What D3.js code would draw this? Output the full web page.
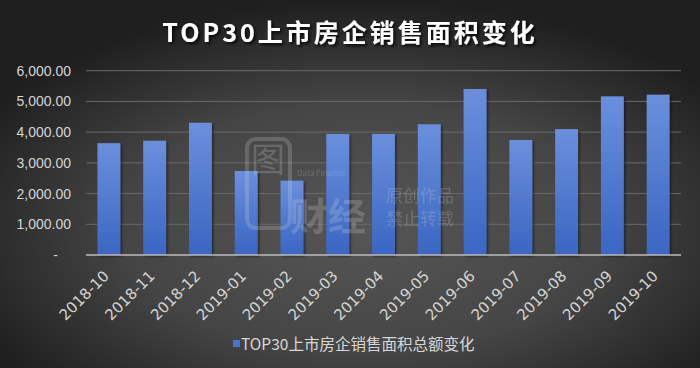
<!DOCTYPE html>
<html><head><meta charset="utf-8">
<script src="https://cdn.jsdelivr.net/npm/d3@7"></script>
<style>
html,body{margin:0;padding:0;background:#2a2a2a;}
svg{display:block;font-family:"Noto Sans CJK SC","Liberation Sans",sans-serif;}
</style></head>
<body>
<svg id="chart" width="700" height="368"></svg>
<script>
const title = "TOP30上市房企销售面积变化";
const seriesName = "TOP30上市房企销售面积总额变化";
const categories = ["2018-10","2018-11","2018-12","2019-01","2019-02","2019-03","2019-04","2019-05","2019-06","2019-07","2019-08","2019-09","2019-10"];
const values = [3640, 3720, 4305, 2735, 2420, 3940, 3940, 4255, 5405, 3745, 4100, 5165, 5220];
const yTicks = [0, 1000, 2000, 3000, 4000, 5000, 6000];

const svg = d3.select("#chart");
const W = 700, H = 368;
const defs = svg.append("defs");
const bg = defs.append("radialGradient").attr("id","bg").attr("cx","52%").attr("cy","62%").attr("r","62%");
bg.append("stop").attr("offset","0%").attr("stop-color","#565656");
bg.append("stop").attr("offset","55%").attr("stop-color","#454545");
bg.append("stop").attr("offset","100%").attr("stop-color","#1f1f1f");
const bar = defs.append("linearGradient").attr("id","barg").attr("x1",0).attr("y1",0).attr("x2",0).attr("y2",1);
bar.append("stop").attr("offset","0%").attr("stop-color","#6b8fdc");
bar.append("stop").attr("offset","100%").attr("stop-color","#3a66c2");
const sh = defs.append("filter").attr("id","sh").attr("x","-20%").attr("y","-20%").attr("width","140%").attr("height","140%");
sh.append("feDropShadow").attr("dx",1.5).attr("dy",1.5).attr("stdDeviation",1.2).attr("flood-color","#000").attr("flood-opacity",0.5);
const tsh = defs.append("filter").attr("id","tsh").attr("x","-10%").attr("y","-30%").attr("width","120%").attr("height","160%");
tsh.append("feDropShadow").attr("dx",2).attr("dy",2).attr("stdDeviation",1.5).attr("flood-color","#000").attr("flood-opacity",0.8);

svg.append("rect").attr("width",W).attr("height",H).attr("fill","url(#bg)");

svg.append("text").attr("x",350).attr("y",42).attr("text-anchor","middle")
  .attr("fill","#ffffff").attr("font-size",25).attr("font-weight","bold")
  .attr("letter-spacing","3px").attr("filter","url(#tsh)").text(title);

const m = {left:86, right:681, top:70.7, bottom:255};
const x = d3.scaleBand().domain(categories).range([m.left, m.right]).paddingInner(0.5).paddingOuter(0.25);
const y = d3.scaleLinear().domain([0,6000]).range([m.bottom, m.top]);

// gridlines
svg.append("g").selectAll("line").data(yTicks.filter(d=>d>0)).join("line")
  .attr("x1",m.left).attr("x2",m.right).attr("y1",d=>y(d)).attr("y2",d=>y(d))
  .attr("stroke","#6a6a6a").attr("stroke-width",1);

// bars
svg.append("g").selectAll("rect").data(values).join("rect")
  .attr("x",(d,i)=>x(categories[i])).attr("width",x.bandwidth())
  .attr("y",d=>y(d)).attr("height",d=>y(0)-y(d))
  .attr("fill","url(#barg)").attr("filter","url(#sh)");

// baseline
svg.append("line").attr("x1",m.left).attr("x2",m.right).attr("y1",y(0)).attr("y2",y(0))
  .attr("stroke","#bdbdbd").attr("stroke-width",1.5);

// watermark (overlays bars)
const wm = svg.append("g").attr("opacity",0.22).attr("fill","#d8d8d8");
wm.append("rect").attr("x",247).attr("y",139).attr("width",43).attr("height",89).attr("rx",9)
  .attr("fill","none").attr("stroke","#d8d8d8").attr("stroke-width",4);
wm.append("text").attr("x",251).attr("y",172).attr("font-size",34).text("图");
wm.append("text").attr("x",290).attr("y",230).attr("font-size",38).attr("font-weight","bold").text("财经");
wm.append("text").attr("x",297).attr("y",176).attr("font-size",8).text("Data Finance");
wm.append("text").attr("x",386).attr("y",202).attr("font-size",17).text("原创作品");
wm.append("text").attr("x",386).attr("y",225).attr("font-size",17).text("禁止转载");

// y axis labels
const fmt = d => d===0 ? "-" : d3.format(",.2f")(d);
const ya = svg.append("g").attr("transform",`translate(${m.left-15},0)`)
  .call(d3.axisLeft(y).tickValues(yTicks).tickFormat(fmt).tickSize(0).tickPadding(0));
ya.select(".domain").remove();
ya.selectAll("text").attr("fill","#d4d4d4").attr("font-size",14)
  .attr("font-family","Liberation Sans, Arial, sans-serif")
  .attr("dx", d=>d===0?-13:0);

// x axis labels
const xa = svg.append("g").attr("transform",`translate(0,${y(0)})`)
  .call(d3.axisBottom(x).tickSize(0).tickPadding(0));
xa.select(".domain").remove();
xa.selectAll("text").attr("fill","#d4d4d4").attr("font-size",15)
  .attr("font-family","DejaVu Sans, sans-serif")
  .attr("text-anchor","end").attr("dy",0)
  .attr("transform","translate(1,22) rotate(-45)");

// legend
const lg = svg.append("g");
lg.append("rect").attr("x",233).attr("y",340).attr("width",7).attr("height",7).attr("fill","#4a74d0");
lg.append("text").attr("x",241).attr("y",350).attr("fill","#d8d8d8").attr("font-size",15.5)
  .attr("font-family","Noto Sans CJK SC, sans-serif").text(seriesName);
</script>
</body></html>
